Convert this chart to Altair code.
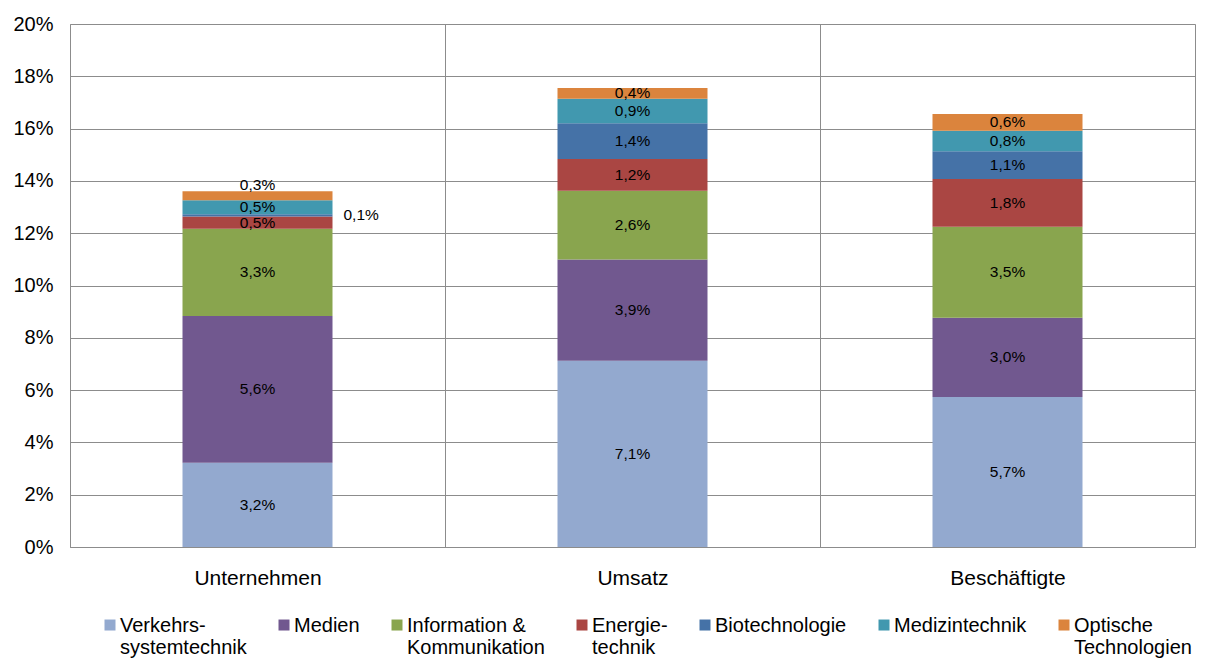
import altair as alt
import pandas as pd

categories = ["Unternehmen", "Umsatz", "Beschäftigte"]
series = ["Verkehrssystemtechnik", "Medien", "Information & Kommunikation",
          "Energietechnik", "Biotechnologie", "Medizintechnik", "Optische Technologien"]
legend_labels = ["Verkehrs-|systemtechnik", "Medien|", "Information &|Kommunikation",
                 "Energie-|technik", "Biotechnologie|", "Medizintechnik|", "Optische|Technologien"]
colors = ["#93A9CF", "#71588F", "#89A54E", "#AA4643", "#4572A7", "#4198AF", "#DB843D"]

verkehr = [3.22, 7.12, 5.74]
medien = [5.61, 3.87, 3.03]
info = [3.34, 2.63, 3.48]
energie = [0.47, 1.22, 1.82]
bio = [0.08, 1.36, 1.06]
medizin = [0.54, 0.94, 0.79]
optisch = [0.34, 0.41, 0.64]

values = [verkehr, medien, info, energie, bio, medizin, optisch]
rows = []
for i, (s, vals) in enumerate(zip(series, values)):
    for c, v in zip(categories, vals):
        rows.append({"cat": c, "series": s, "idx": i, "value": v})
df = pd.DataFrame(rows)

FONT = "Liberation Sans"
GRID = "#8c8c8c"

label_map = " : ".join(
    f"datum.label == '{s}' ? split('{l}', '|')" for s, l in zip(series, legend_labels)
) + " : datum.label"

xenc = alt.X("cat:N", sort=categories, title=None,
             scale=alt.Scale(paddingInner=0, paddingOuter=0),
             axis=alt.Axis(grid=True, tickBand="extent", ticks=False, labelAngle=0,
                           labelFontSize=21, labelPadding=20, labelColor="#000",
                           domainColor=GRID, gridColor=GRID, labelFont=FONT))

bars = alt.Chart(df).mark_bar(size=150).encode(
    x=xenc,
    y=alt.Y("value:Q", stack="zero", title=None,
            scale=alt.Scale(domain=[0, 20], nice=False),
            axis=alt.Axis(values=list(range(0, 21, 2)), labelExpr="datum.value + '%'",
                          ticks=False, labelFontSize=20, labelPadding=17, labelColor="#000",
                          domainColor=GRID, gridColor=GRID, labelFont=FONT)),
    color=alt.Color("series:N", scale=alt.Scale(domain=series, range=colors),
                    legend=alt.Legend(title=None, orient="none", legendX=30, legendY=582,
                                      direction="horizontal", columns=7, padding=0,
                                      symbolType="M-1,0.64H1V2.64H-1Z", symbolSize=121,
                                      symbolStrokeWidth=0, labelFontSize=20, labelFont=FONT,
                                      labelColor="#000", labelBaseline="top", labelOffset=0,
                                      columnPadding=27, labelLimit=300,
                                      labelExpr=label_map)),
    order=alt.Order("idx:Q", sort="ascending"),
)

textbase = alt.Chart(df).transform_stack(
    stack="value", groupby=["cat"], sort=[alt.SortField("idx", "ascending")], as_=["y0", "y1"]
).transform_calculate(
    mid="(datum.y0 + datum.y1) / 2",
    label="replace(format(datum.value, '.1f'), '.', ',') + '%'",
)

tenc = dict(x=alt.X("cat:N", sort=categories), y=alt.Y("mid:Q"), text="label:N")

txt_main = textbase.transform_filter(
    "!(datum.cat == 'Unternehmen' && (datum.series == 'Biotechnologie' || datum.series == 'Optische Technologien'))"
).mark_text(fontSize=15.5, font=FONT, color="#000", baseline="middle").encode(**tenc)

txt_bio = textbase.transform_filter(
    "datum.cat == 'Unternehmen' && datum.series == 'Biotechnologie'"
).mark_text(fontSize=15.5, font=FONT, color="#000", baseline="middle", align="left", dx=86).encode(**tenc)

txt_opt = textbase.transform_filter(
    "datum.cat == 'Unternehmen' && datum.series == 'Optische Technologien'"
).mark_text(fontSize=15.5, font=FONT, color="#000", baseline="middle", dy=-11).encode(**tenc)

chart = alt.layer(bars, txt_main, txt_bio, txt_opt).properties(
    width=1125, height=523,
    padding={"left": 62, "top": 16, "right": 10, "bottom": 113},
    autosize=alt.AutoSizeParams(type="none"),
).configure_view(stroke=GRID, strokeWidth=1).configure(font=FONT)

chart.save("out.html", embed_options={"renderer": "svg", "actions": False})
